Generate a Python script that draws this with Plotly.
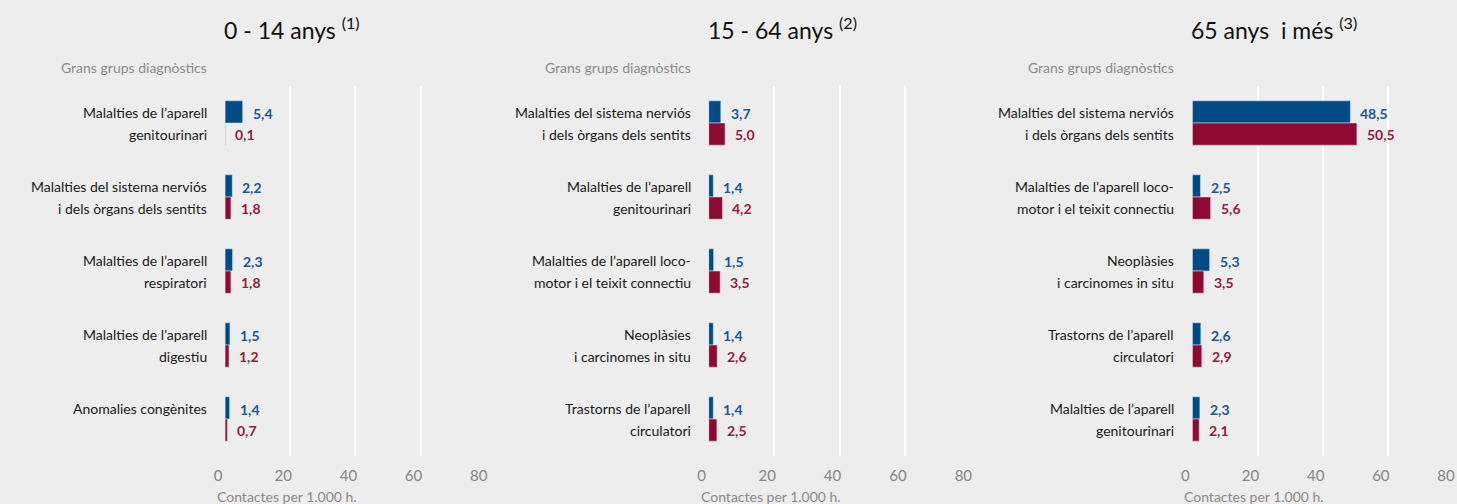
import plotly.graph_objects as go

# --- data -------------------------------------------------------------
titles = ["0 - 14 anys", "15 - 64 anys", "65 anys  i més"]
notes = ["(1)", "(2)", "(3)"]

cats_0_14 = [("Malalties de l’aparell", "genitourinari"),
             ("Malalties del sistema nerviós", "i dels òrgans dels sentits"),
             ("Malalties de l’aparell", "respiratori"),
             ("Malalties de l’aparell", "digestiu"),
             ("Anomalies congènites", "")]
blue_0_14 = [5.4, 2.2, 2.3, 1.5, 1.4]
red_0_14 = [0.1, 1.8, 1.8, 1.2, 0.7]

cats_15_64 = [("Malalties del sistema nerviós", "i dels òrgans dels sentits"),
              ("Malalties de l’aparell", "genitourinari"),
              ("Malalties de l’aparell loco-", "motor i el teixit connectiu"),
              ("Neoplàsies", "i carcinomes in situ"),
              ("Trastorns de l’aparell", "circulatori")]
blue_15_64 = [3.7, 1.4, 1.5, 1.4, 1.4]
red_15_64 = [5.0, 4.2, 3.5, 2.6, 2.5]

cats_65 = [("Malalties del sistema nerviós", "i dels òrgans dels sentits"),
           ("Malalties de l’aparell loco-", "motor i el teixit connectiu"),
           ("Neoplàsies", "i carcinomes in situ"),
           ("Trastorns de l’aparell", "circulatori"),
           ("Malalties de l’aparell", "genitourinari")]
blue_65 = [48.5, 2.5, 5.3, 2.6, 2.3]
red_65 = [50.5, 5.6, 3.5, 2.9, 2.1]

x_ticks = [0, 20, 40, 60, 80]

panels = [(cats_0_14, blue_0_14, red_0_14),
          (cats_15_64, blue_15_64, red_15_64),
          (cats_65, blue_65, red_65)]

BLUE = "#004a86"
RED = "#8e0a33"
BG = "#ecedec"
FONT = "Lato"

domains = [[216 / 1457, 479 / 1457], [704 / 1457, 968 / 1457], [1192 / 1457, 1455 / 1457]]


def fmt(v):
    return f"{v:.1f}".replace(".", ",")


fig = go.Figure()
annotations = []

for i, (cats, blue, red) in enumerate(panels):
    sfx = "" if i == 0 else str(i + 1)
    xa, ya = "x" + sfx, "y" + sfx
    keys = [a + " " + b for a, b in cats]
    fig.add_trace(go.Bar(x=blue, y=keys, orientation="h", marker_color=BLUE,
                         xaxis=xa, yaxis=ya, showlegend=False, hoverinfo="skip"))
    fig.add_trace(go.Bar(x=red, y=keys, orientation="h", marker_color=RED,
                         xaxis=xa, yaxis=ya, showlegend=False, hoverinfo="skip"))

    fig.layout["xaxis" + sfx] = dict(
        domain=domains[i], range=[0, 80], anchor=ya, tickvals=x_ticks,
        showgrid=True, gridcolor="white", gridwidth=1.5, zeroline=False,
        showline=False, ticks="outside", ticklen=6, tickcolor="rgba(0,0,0,0)",
        ticklabelshift=-7,
        tickfont=dict(family=FONT, size=15, color="#858585"), fixedrange=True)
    fig.layout["yaxis" + sfx] = dict(
        domain=[0, 1], anchor=xa, autorange="reversed", showticklabels=False,
        showgrid=False, zeroline=False, type="category", fixedrange=True)

    for k, (l1, l2), b, r in zip(keys, cats, blue, red):
        annotations.append(dict(xref=xa + " domain", yref=ya, x=0, y=k, xanchor="right",
                                yanchor="middle", xshift=-16, yshift=11, text=l1, showarrow=False,
                                font=dict(family=FONT, size=14, color="#1a1a1a")))
        if l2:
            annotations.append(dict(xref=xa + " domain", yref=ya, x=0, y=k, xanchor="right",
                                    yanchor="middle", xshift=-16, yshift=-11, text=l2, showarrow=False,
                                    font=dict(family=FONT, size=14, color="#1a1a1a")))
        annotations.append(dict(xref=xa, yref=ya, x=b, y=k, xanchor="left", yanchor="middle",
                                xshift=8, yshift=10, text="<b>" + fmt(b) + "</b>", showarrow=False,
                                font=dict(family=FONT, size=14, color="#1c5693")))
        annotations.append(dict(xref=xa, yref=ya, x=r, y=k, xanchor="left", yanchor="middle",
                                xshift=8, yshift=-11, text="<b>" + fmt(r) + "</b>", showarrow=False,
                                font=dict(family=FONT, size=14, color="#941b3e")))

    # panel title
    annotations.append(dict(xref=xa + " domain", yref="paper", x=0, y=1, xanchor="left",
                            yanchor="middle", xshift=-3, yshift=58,
                            text=titles[i] + " <sup>" + notes[i] + "</sup>", showarrow=False,
                            font=dict(family=FONT, size=23, color="#111111")))
    # column header
    annotations.append(dict(xref=xa + " domain", yref="paper", x=0, y=1, xanchor="right",
                            yanchor="middle", xshift=-16, yshift=19,
                            text="Grans grups diagnòstics", showarrow=False,
                            font=dict(family=FONT, size=14, color="#8a8a8a")))
    # axis title
    annotations.append(dict(xref=xa + " domain", yref="paper", x=0, y=0, xanchor="left",
                            yanchor="middle", xshift=-10, yshift=-40,
                            text="Contactes per 1.000 h.", showarrow=False,
                            font=dict(family=FONT, size=14, color="#8a8a8a")))

fig.update_layout(
    width=1457, height=504,
    margin=dict(l=0, r=0, t=86, b=48),
    paper_bgcolor=BG, plot_bgcolor=BG,
    barmode="group", bargap=0.4, bargroupgap=0,
    annotations=annotations,
    font=dict(family=FONT),
)

page_js = ("var s=document.createElement('style');"
           "s.textContent='html,body{margin:0;padding:0;overflow:hidden;background:" + BG + ";}"
           ".plotly-graph-div{display:block;overflow:hidden;}';"
           "document.head.appendChild(s);")

fig.write_html("out.html", config={"displayModeBar": False}, post_script=page_js)
